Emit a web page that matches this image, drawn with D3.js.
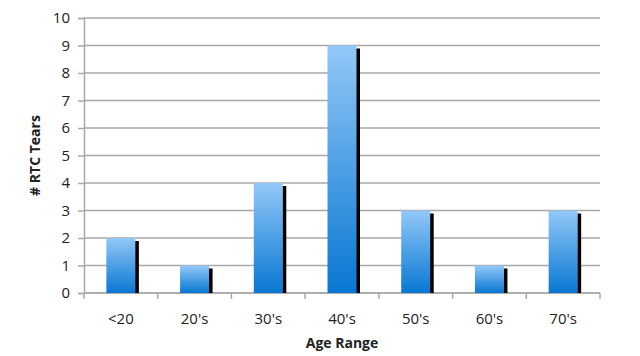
<!DOCTYPE html>
<html><head><meta charset="utf-8">
<script src="https://cdn.jsdelivr.net/npm/d3@7"></script>
<style>body{margin:0;background:#fff}svg{display:block}</style>
</head><body>
<script>
const categories = ["<20","20's","30's","40's","50's","60's","70's"];
const values = [2,1,4,9,3,1,3];
const yTicks = [0,1,2,3,4,5,6,7,8,9,10];
const yTitle = "# RTC Tears";
const xTitle = "Age Range";

const W=640,H=356;
const m={l:84,r:40,t:18,b:63};
const svg=d3.select("body").append("svg").attr("width",W).attr("height",H);
const defs=svg.append("defs");
const g=defs.append("linearGradient").attr("id","bg").attr("x1",0).attr("y1",0).attr("x2",0).attr("y2",1);
g.append("stop").attr("offset","0%").attr("stop-color","#92c8f8");
g.append("stop").attr("offset","100%").attr("stop-color","#0877d2");

const x=d3.scaleBand().domain(categories).range([m.l,W-m.r]).paddingInner(0).paddingOuter(0);
const y=d3.scaleLinear().domain([0,10]).range([H-m.b,m.t]);
const font="'Open Sans', 'DejaVu Sans', sans-serif";

// grid
svg.append("g").selectAll("line").data(yTicks).join("line")
  .attr("x1",m.l).attr("x2",W-m.r).attr("y1",d=>y(d)).attr("y2",d=>y(d))
  .attr("stroke","#a8a8a8").attr("stroke-width",1.5);

// y axis
const ya=svg.append("g").attr("transform",`translate(${m.l},0)`).call(d3.axisLeft(y).tickValues(yTicks).tickSize(6).tickPadding(8));
ya.select(".domain").attr("stroke","#a8a8a8").attr("stroke-width",1.5);
ya.selectAll(".tick line").attr("stroke","#a8a8a8").attr("stroke-width",1.5);
ya.selectAll("text").attr("font-family",font).attr("font-size",15).attr("fill","#222");

// x axis
const xa=svg.append("g").attr("transform",`translate(0,${y(0)})`).call(d3.axisBottom(x).tickSize(0).tickPadding(20));
xa.select(".domain").remove();
xa.selectAll("text").attr("font-family",font).attr("font-size",15).attr("fill","#222");
const bounds=categories.map(c=>x(c)).concat([x(categories[categories.length-1])+x.bandwidth()]);
svg.append("g").selectAll("line").data(bounds).join("line")
  .attr("x1",d=>d).attr("x2",d=>d).attr("y1",y(0)).attr("y2",y(0)+6)
  .attr("stroke","#a8a8a8").attr("stroke-width",1.5);
svg.append("line").attr("x1",m.l).attr("x2",W-m.r).attr("y1",y(0)).attr("y2",y(0))
  .attr("stroke","#a8a8a8").attr("stroke-width",1.5);

// bars
const bw=29;
const bars=svg.append("g");
bars.selectAll("rect.sh").data(values).join("rect").attr("class","sh")
  .attr("x",(d,i)=>x(categories[i])+x.bandwidth()/2+bw/2-0.5)
  .attr("y",d=>y(d)+3).attr("width",4).attr("height",d=>y(0)-y(d)-3).attr("fill","#000");
bars.selectAll("rect.b").data(values).join("rect").attr("class","b")
  .attr("x",(d,i)=>x(categories[i])+x.bandwidth()/2-bw/2)
  .attr("y",d=>y(d)).attr("width",bw).attr("height",d=>y(0)-y(d)).attr("fill","url(#bg)");

// titles
svg.append("text").attr("transform",`translate(40,${(y(0)+y(10))/2}) rotate(-90)`)
  .attr("text-anchor","middle").attr("font-family",font).attr("font-weight","bold").attr("font-size",14).attr("fill","#222").text(yTitle);
svg.append("text").attr("x",(m.l+W-m.r)/2).attr("y",348)
  .attr("text-anchor","middle").attr("font-family",font).attr("font-weight","bold").attr("font-size",14).attr("fill","#222").text(xTitle);
</script>
</body></html>
